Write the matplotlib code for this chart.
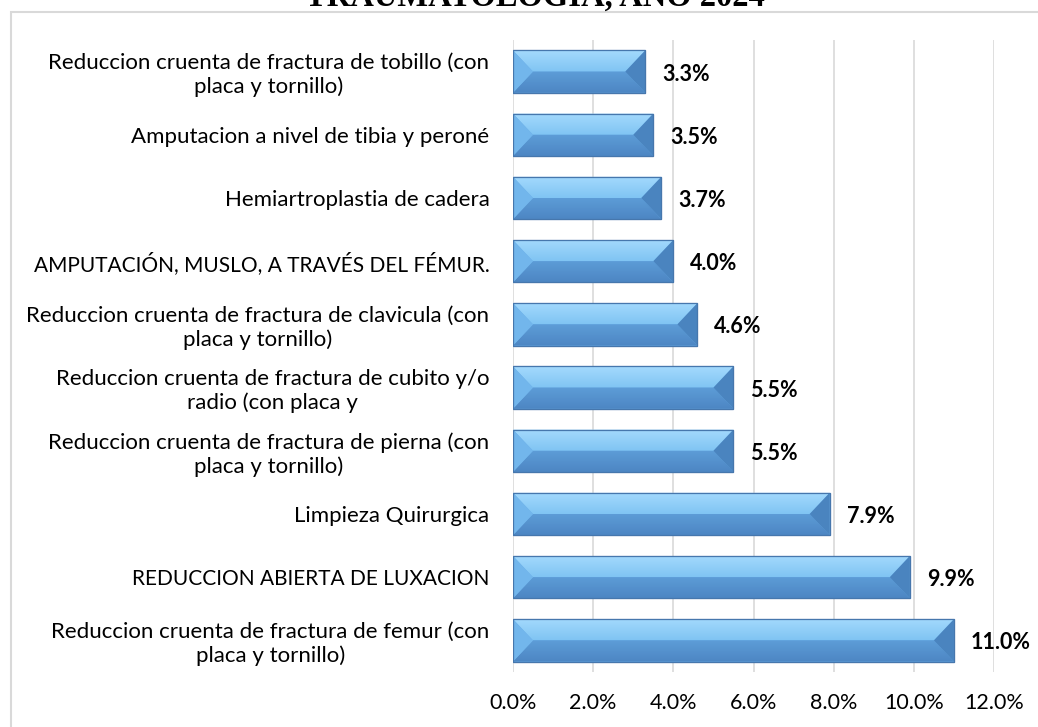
import numpy as np
import matplotlib.pyplot as plt
from matplotlib.patches import Polygon, Rectangle
from matplotlib.colors import LinearSegmentedColormap

procedimientos = [
    "Reduccion cruenta de fractura de tobillo (con\nplaca y tornillo)",
    "Amputacion a nivel de tibia y peroné",
    "Hemiartroplastia de cadera",
    "AMPUTACIÓN, MUSLO, A TRAVÉS DEL FÉMUR.",
    "Reduccion cruenta de fractura de clavicula (con\nplaca y tornillo)",
    "Reduccion cruenta de fractura de cubito y/o\nradio (con placa y",
    "Reduccion cruenta de fractura de pierna (con\nplaca y tornillo)",
    "Limpieza Quirurgica",
    "REDUCCION ABIERTA DE LUXACION",
    "Reduccion cruenta de fractura de femur (con\nplaca y tornillo)",
]
porcentajes = [3.3, 3.5, 3.7, 4.0, 4.6, 5.5, 5.5, 7.9, 9.9, 11.0]
ticks = [0, 2, 4, 6, 8, 10, 12]

plt.rcParams['font.family'] = ['Lato', 'DejaVu Sans']

W, H = 1038, 727
fig = plt.figure(figsize=(W / 100, H / 100), dpi=100)

# outer chart frame (runs off the right and bottom edges)
fig.patches.append(Rectangle((10.5 / W, -0.01), 1.1, 1 - 12 / H + 0.01,
                             transform=fig.transFigure, fill=False,
                             edgecolor='#d9d9d9', linewidth=1.5))

# title, mostly above the top edge
fig.text(535 / W, 1 - 6 / H, "TRAUMATOLOGIA, AÑO 2024", ha='center', va='baseline',
         fontsize=23.5, fontweight='bold', family=['Liberation Serif', 'DejaVu Serif'])

ax = fig.add_axes([513 / W, 1 - 672 / H, (994 - 513) / W, (672 - 40) / H])

y = np.arange(len(procedimientos))
alto = 0.67
bars = ax.barh(y, porcentajes, height=alto, color='#6aaee8', edgecolor='#4a7fb5',
               linewidth=0.8, zorder=2)

ax.set_xlim(0, 12)
ax.set_ylim(len(procedimientos) - 0.5, -0.5)

cm_top = LinearSegmentedColormap.from_list('top', ['#a4dafd', '#80c4f3'])
cm_bot = LinearSegmentedColormap.from_list('bot', ['#5d9dd8', '#4d86c3'])

# bevel faces on each bar
px = 12 / (994 - 513)
d = 20 * px
grad = np.linspace(0, 1, 64).reshape(-1, 1)
for b in bars:
    x0 = b.get_x()
    w = b.get_width()
    yt = b.get_y()
    yb = yt + b.get_height()
    ym = (yt + yb) / 2
    top = Polygon([(x0, yt), (x0 + w, yt), (x0 + w - d, ym), (x0 + d, ym)], closed=True,
                  facecolor='none', edgecolor='none', zorder=3)
    bot = Polygon([(x0, yb), (x0 + d, ym), (x0 + w - d, ym), (x0 + w, yb)], closed=True,
                  facecolor='none', edgecolor='none', zorder=3)
    ax.add_patch(top)
    ax.add_patch(bot)
    im1 = ax.imshow(grad, extent=(x0, x0 + w, ym, yt), cmap=cm_top, aspect='auto',
                    zorder=3, origin='upper')
    im1.set_clip_path(top)
    im2 = ax.imshow(grad, extent=(x0, x0 + w, yb, ym), cmap=cm_bot, aspect='auto',
                    zorder=3, origin='upper')
    im2.set_clip_path(bot)
    ax.add_patch(Polygon([(x0, yt), (x0 + d, ym), (x0, yb)], closed=True,
                         facecolor='#72b6ec', edgecolor='none', zorder=4))
    ax.add_patch(Polygon([(x0 + w, yt), (x0 + w, yb), (x0 + w - d, ym)], closed=True,
                         facecolor='#4a84bf', edgecolor='none', zorder=4))
    ax.add_patch(Rectangle((x0, yt), w, yb - yt, fill=False, edgecolor='#4677ad',
                           linewidth=0.9, zorder=5))
    ax.text(x0 + w + 17 * px, ym + 0.04, f"{w:.1f}%", ha='left', va='center',
            fontsize=15.5, fontweight='bold', color='black', zorder=6)

ax.set_xlim(0, 12)
ax.set_ylim(len(procedimientos) - 0.5, -0.5)

ax.set_xticks(ticks)
ax.set_xticklabels([f"{t:.1f}%" for t in ticks], fontsize=15.5)
ax.set_yticks(y)
ax.set_yticklabels(procedimientos, fontsize=16, multialignment='center')
# all-caps labels run wide in this face, so set them a touch smaller
for lbl in ax.get_yticklabels():
    if lbl.get_text().isupper():
        lbl.set_fontsize(15)
ax.tick_params(axis='both', length=0)
ax.tick_params(axis='y', pad=17)
ax.tick_params(axis='x', pad=15)
ax.grid(axis='x', color='#d9d9d9', linewidth=1.2, zorder=0)
ax.set_axisbelow(True)
for s in ax.spines.values():
    s.set_visible(False)

fig.savefig("out.png", dpi=100)
